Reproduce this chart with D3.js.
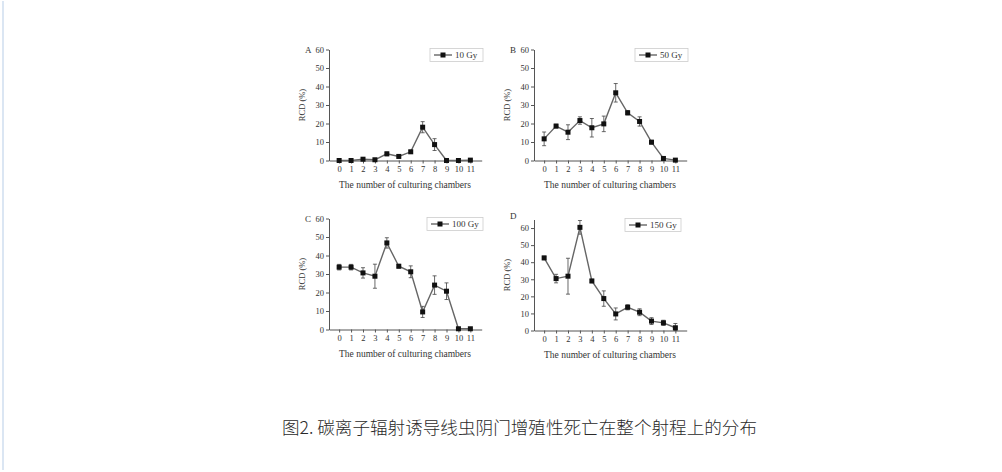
<!DOCTYPE html>
<html>
<head>
<meta charset="utf-8">
<script src="https://cdn.jsdelivr.net/npm/d3@7"></script>
<style>
  html, body { margin: 0; padding: 0; background: #fff; }
  svg { display: block; }
  .tick text { font-family: "Liberation Serif", "DejaVu Serif", serif; }
</style>
</head>
<body>
<div id="chart"></div>
<script>
// chamber index along the x axis
const chambers = [0, 1, 2, 3, 4, 5, 6, 7, 8, 9, 10, 11];
const panelLetters = ['A', 'B', 'C', 'D'];
const doseLabels = ['10 Gy', '50 Gy', '100 Gy', '150 Gy'];
const yTicks = [0, 10, 20, 30, 40, 50, 60];

// RCD (%) means and error (±) per chamber
const rcd10 = [0, 0, 0.7, 0.4, 3.6, 2.2, 4.7, 18, 8.6, 0, 0, 0.2];
const err10 = [0.2, 0.2, 0.5, 0.4, 1, 0.8, 0.8, 3, 3.2, 0.2, 0.2, 0.2];
const rcd50 = [11.7, 18.6, 15.3, 21.6, 17.7, 19.8, 36.6, 25.8, 21.1, 9.9, 1.1, 0.2];
const err50 = [3.7, 1, 4, 2, 5, 4.2, 5, 1.2, 2.5, 1, 0.8, 0.3];
const rcd100 = [33.7, 33.7, 30.6, 28.8, 46.8, 34.2, 31.2, 9.5, 24, 20.7, 0.4, 0.4];
const err100 = [1.5, 1.5, 2.8, 6.5, 2.8, 1, 3.2, 3, 5, 4.5, 0.3, 0.3];
const rcd150 = [42.5, 30.4, 31.8, 60.4, 29, 18.7, 9.7, 13.6, 10.7, 5.5, 4.5, 1.6];
const err150 = [1, 2.5, 10.5, 4, 1, 4.5, 3.5, 1.5, 2, 2, 1.5, 2.5];

const seriesValues = [rcd10, rcd50, rcd100, rcd150];
const seriesErrors = [err10, err50, err100, err150];
const yMax = [60, 60, 60, 65];

const caption = '图2. 碳离子辐射诱导线虫阴门增殖性死亡在整个射程上的分布';

const width = 1002;
const height = 472;
const serif = '"Liberation Serif", "DejaVu Serif", serif';

const svg = d3.select('#chart')
  .append('svg')
  .attr('width', width)
  .attr('height', height);

// pale blue strip on the left edge of the page
svg.append('rect')
  .attr('x', 2).attr('y', 1)
  .attr('width', 2).attr('height', 469)
  .attr('fill', '#dbe6f3');

// panel frames: y-axis x position, top and bottom of the y range, legend box
const frames = [
  { left: 329, top: 49.5, bottom: 160.5, legX: 430, legW: 53 },
  { left: 534, top: 49.5, bottom: 160.5, legX: 635, legW: 53 },
  { left: 329, top: 218.5, bottom: 329.5, legX: 427, legW: 56 },
  { left: 534, top: 219.5, bottom: 330.5, legX: 625, legW: 56 }
];

function drawPanel(i) {
  const f = frames[i];
  const values = seriesValues[i];
  const errors = seriesErrors[i];
  const g = svg.append('g');

  const x = d3.scaleLinear().domain([-0.85, 11.95]).range([f.left, f.left + 152.7]);
  const y = d3.scaleLinear().domain([0, yMax[i]]).range([f.bottom, f.top]);

  const yAxis = g.append('g')
    .attr('transform', `translate(${f.left},0)`)
    .call(d3.axisLeft(y).tickValues(yTicks).tickSize(3).tickSizeOuter(0).tickPadding(2));
  const xAxis = g.append('g')
    .attr('transform', `translate(0,${f.bottom})`)
    .call(d3.axisBottom(x).tickValues(chambers).tickSize(3).tickSizeOuter(0).tickPadding(2));

  [yAxis, xAxis].forEach(ax => {
    ax.select('.domain').attr('stroke', '#555');
    ax.selectAll('.tick line').attr('stroke', '#555');
    ax.selectAll('.tick text')
      .attr('fill', '#333')
      .style('font-size', '8.5px');
  });

  // panel letter
  g.append('text')
    .attr('x', f.left - 24)
    .attr('y', f.top + (i === 3 ? -1 : 3))
    .attr('font-family', serif)
    .attr('font-size', 9)
    .attr('fill', '#333')
    .text(panelLetters[i]);

  // axis titles
  g.append('text')
    .attr('transform', `translate(${f.left - 24},${(f.top + f.bottom) / 2}) rotate(-90)`)
    .attr('text-anchor', 'middle')
    .attr('font-family', serif)
    .attr('font-size', 8.5)
    .attr('fill', '#333')
    .text('RCD (%)');

  g.append('text')
    .attr('x', f.left + 76)
    .attr('y', f.bottom + 27)
    .attr('text-anchor', 'middle')
    .attr('font-family', serif)
    .attr('font-size', 9.5)
    .attr('fill', '#333')
    .text('The number of culturing chambers');

  // error bars
  const bars = g.append('g').attr('stroke', '#444').attr('stroke-width', 0.8);
  chambers.forEach((c, k) => {
    const cx = x(c);
    const hi = y(values[k] + errors[k]);
    const lo = y(Math.max(0, values[k] - errors[k]));
    bars.append('line').attr('x1', cx).attr('x2', cx).attr('y1', hi).attr('y2', lo);
    bars.append('line').attr('x1', cx - 2).attr('x2', cx + 2).attr('y1', hi).attr('y2', hi);
    bars.append('line').attr('x1', cx - 2).attr('x2', cx + 2).attr('y1', lo).attr('y2', lo);
  });

  // connecting line
  const line = d3.line().x((d, k) => x(chambers[k])).y(d => y(d));
  g.append('path')
    .datum(values)
    .attr('d', line)
    .attr('fill', 'none')
    .attr('stroke', '#666')
    .attr('stroke-width', 1.4);

  // square markers
  g.selectAll('.pt')
    .data(values)
    .enter()
    .append('rect')
    .attr('class', 'pt')
    .attr('x', (d, k) => x(chambers[k]) - 2.5)
    .attr('y', d => y(d) - 2.5)
    .attr('width', 5)
    .attr('height', 5)
    .attr('fill', '#111');

  // legend
  const ly = f.top - 1;
  const leg = g.append('g');
  leg.append('rect')
    .attr('x', f.legX).attr('y', ly)
    .attr('width', f.legW).attr('height', 13)
    .attr('fill', '#fff')
    .attr('stroke', '#ccc')
    .attr('stroke-width', 0.8);
  leg.append('line')
    .attr('x1', f.legX + 4).attr('x2', f.legX + 22)
    .attr('y1', ly + 6.5).attr('y2', ly + 6.5)
    .attr('stroke', '#666').attr('stroke-width', 1.4);
  leg.append('rect')
    .attr('x', f.legX + 10.5).attr('y', ly + 4)
    .attr('width', 5).attr('height', 5)
    .attr('fill', '#111');
  leg.append('text')
    .attr('x', f.legX + 25)
    .attr('y', ly + 9.5)
    .attr('font-family', serif)
    .attr('font-size', 9)
    .attr('fill', '#333')
    .text(doseLabels[i]);
}

panelLetters.forEach((p, i) => drawPanel(i));

svg.append('text')
  .attr('x', 519.5)
  .attr('y', 434)
  .attr('text-anchor', 'middle')
  .attr('font-family', '"Noto Sans CJK SC", sans-serif')
  .attr('font-weight', 300)
  .attr('font-size', 17.6)
  .attr('fill', '#2a2a2a')
  .text(caption);
</script>
</body>
</html>
